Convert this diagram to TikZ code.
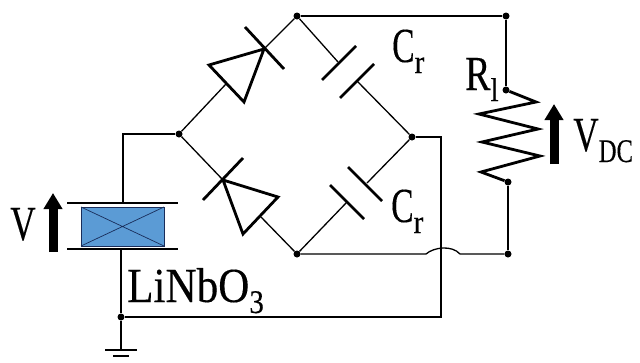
\documentclass[tikz,border=0pt]{standalone}
\usepackage{fontspec}
\setmainfont[FakeStretch=0.88,FakeBold=0.25]{Liberation Serif}
\usetikzlibrary{calc,arrows.meta}
\newcommand{\lowtext}[1]{\raisebox{-11pt}{\fontsize{33}{33}\selectfont #1}}
\newcommand{\narrowcap}[2]{\scalebox{#1}[1]{#2}}
\tikzset{
  wire/.style={line width=1.3pt, black},
  plate/.style={line width=2.8pt, black},
  dot/.style={circle, fill=black, inner sep=0pt, minimum size=7pt},
  lbl/.style={anchor=base west, inner sep=0pt, font=\fontsize{49}{49}\selectfont},
  bigarrow/.style={-{Triangle[width=18pt,length=16pt]}, line width=9pt, black}
}
\begin{document}
\begin{tikzpicture}[x=1pt, y=-1pt]
  % Colors
  \definecolor{piezo}{RGB}{91,155,213}
  \definecolor{piezoline}{RGB}{25,45,90}
  \useasboundingbox (0,0) rectangle (640,362);

  % Junctions
  \node[dot] (top) at (297,16) {};
  \node[dot] (left) at (179,134) {};
  \node[dot] (right) at (412,137) {};
  \node[dot] (bottom) at (297,254) {};
  \node[dot] (topright) at (506,16) {};
  \node[dot] (rtop) at (506,90) {};
  \node[dot] (rbot) at (508,182) {};
  \node[dot] (botright) at (508,254) {};
  \node[dot] (gnd) at (121,317) {};

  % Piezo element
  \fill[piezo] (81,207) rectangle (164,246);
  \draw[piezoline, line width=0.7pt] (81,207) rectangle (164,246);
  \draw[piezoline, line width=0.7pt] (81,207) -- (164,246) (81,246) -- (164,207);
  \draw[plate] (67,203) -- (178,203);
  \draw[plate] (67,249) -- (178,249);
  \coordinate (ptop) at (123,203);
  \coordinate (pbot) at (121,249);
  \draw[wire] (left) -- (ptop |- left) -- (ptop);
  \draw[wire] (pbot) -- (gnd);

  % Ground
  \coordinate (gndbar) at (121,350);
  \draw[wire] (gnd) -- (gndbar);
  \draw[wire] (105,350) -- (137,350);
  \draw[wire] (113,356) -- (129,356);

  % Upper diode
  \coordinate (d1tip) at (264,49);
  \coordinate (d1base) at (226,84);
  \draw[wire] (left) -- (d1base);
  \draw[wire] (d1tip) -- (top);
  \draw[plate, line join=miter] (d1tip) -- (209,65) -- (244,102) -- cycle;
  \draw[plate] (245,27) -- (284,69);

  % Lower diode
  \coordinate (d2tip) at (223,180);
  \coordinate (d2base) at (261,217);
  \draw[wire] (left) -- (d2tip);
  \draw[wire] (d2base) -- (bottom);
  \draw[plate, line join=miter] (d2tip) -- (278,197) -- (243,234) -- cycle;
  \draw[plate] (203,200) -- (243,158);

  % Capacitors
  \coordinate (c1a) at (338,62);
  \coordinate (c1b) at (357,81);
  \draw[wire] (top) -- (c1a);
  \draw[wire] (c1b) -- (right);
  \draw[plate] (356,46) -- (322,80);
  \draw[plate] (374,64) -- (340,98);
  \coordinate (c2a) at (367,183);
  \coordinate (c2b) at (347,202);
  \draw[wire] (right) -- (c2a);
  \draw[wire] (c2b) -- (bottom);
  \draw[plate] (348,167) -- (382,201);
  \draw[plate] (330,185) -- (364,219);

  % Load resistor
  \draw[plate, line join=miter] (rtop) -- (536,102) -- (479,114) -- (538,129) -- (482,142)
    -- (540,156) -- (481,172) -- (rbot);

  % Wires
  \draw[wire] (top) -- (topright) -- (rtop);
  \draw[wire] (rbot) -- (botright);
  \coordinate (cross) at (441,254);
  \draw[wire] (right) -- (cross |- right) -- (441,317) -- (gnd);
  \draw[wire] (bottom) -- (426,254) .. controls (434,247) and (452,245) .. (460,254) -- (botright);

  % Voltage arrows
  \coordinate (va) at (53,252);
  \coordinate (vb) at (53,193);
  \draw[bigarrow] (va) -- (vb);
  \coordinate (vdca) at (554,164);
  \coordinate (vdcb) at (554,104);
  \draw[bigarrow] (vdca) -- (vdcb);

  % Labels
  \node[lbl] (vlabel) at (10,240) {\narrowcap{0.82}{V}};
  \node[lbl] (vdclabel) at (573,151) {\narrowcap{0.82}{V}\lowtext{\narrowcap{0.85}{DC}}};
  \node[lbl] (cr1) at (392,62) {\narrowcap{0.78}{C}\lowtext{r}};
  \node[lbl] (cr2) at (391,222) {\narrowcap{0.78}{C}\lowtext{r}};
  \node[lbl] (rl) at (465,90) {\narrowcap{0.88}{R}\lowtext{l}};
  \node[lbl] (linbo) at (127,302) {LiNbO\lowtext{3}};
\end{tikzpicture}
\end{document}
